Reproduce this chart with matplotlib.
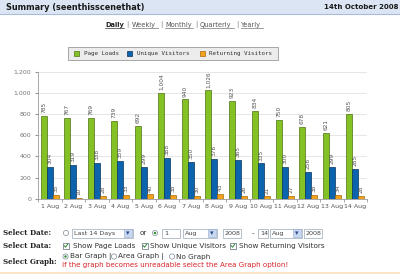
import matplotlib
matplotlib.use("Agg")
import matplotlib.pyplot as plt
import numpy as np
from matplotlib.patches import Rectangle, Circle

days = ["1 Aug", "2 Aug", "3 Aug", "4 Aug", "5 Aug", "6 Aug", "7 Aug",
        "8 Aug", "9 Aug", "10 Aug", "11 Aug", "12 Aug", "13 Aug", "14 Aug"]
page_loads = [785, 767, 769, 739, 692, 1004, 940, 1026, 923, 834, 750, 678, 621, 805]
unique_visitors = [304, 319, 338, 359, 299, 388, 350, 376, 365, 335, 300, 256, 299, 285]
returning_visitors = [35, 10, 28, 33, 40, 38, 30, 43, 26, 21, 27, 38, 34, 28]
series_names = ["Page Loads", "Unique Visitors", "Returning Visitors"]
yticks = [0, 200, 400, 600, 800, 1000, 1200]

green, blue, orange = "#84c124", "#0b64ad", "#f4a21e"
edges = ["#4a7312", "#06345e", "#a86a08"]

fig = plt.figure(figsize=(4, 2.74), dpi=100)

# page background drawn in pixel coords
bg = fig.add_axes([0, 0, 1, 1])
bg.set_xlim(0, 400)
bg.set_ylim(274, 0)
bg.axis("off")

# header band
bg.add_patch(Rectangle((0, 0), 400, 13.5, fc="#dbe5f4", ec="none"))
bg.plot([0, 400], [13.5, 13.5], color="#a9bcd9", lw=0.8)
bg.text(6, 7, "Summary (seenthisscenethat)", fontsize=5.9, fontweight="bold",
        color="#1a1a1a", va="center")
bg.text(398, 7, "14th October 2008", fontsize=5.0, fontweight="bold",
        color="#1a1a1a", va="center", ha="right")

# period links
links = [("Daily", 105, 124), ("Weekly", 132, 158), ("Monthly", 165, 193),
         ("Quarterly", 200, 234), ("Yearly", 241, 263)]
for i, (name, x0, x1) in enumerate(links):
    bg.text(x0, 25, name, fontsize=4.8, va="center",
            color="#222222" if i == 0 else "#555555",
            fontweight="bold" if i == 0 else "normal")
    bg.plot([x0, x1], [28.3, 28.3], color="#333333" if i == 0 else "#777777", lw=0.5)
    if i < len(links) - 1:
        bg.text(x1 + 3.5, 25, "|", fontsize=4.8, va="center", ha="center", color="#666666")

# legend box
bg.add_patch(Rectangle((68, 47), 210, 13, fc="#ececec", ec="#9a9a9a", lw=0.6))
for col, ec, name, xs, xt in zip([green, blue, orange], edges, series_names,
                                 [74, 127, 200], [84, 137, 209]):
    bg.add_patch(Rectangle((xs, 51), 5, 5, fc=col, ec=ec, lw=0.5))
    bg.text(xt, 53.6, name, fontsize=4.2, family="DejaVu Sans Mono",
            va="center", color="#333333")

# chart
ax = fig.add_axes([38 / 400, 1 - 198.7 / 274, (367 - 38) / 400, (198.7 - 72) / 274])
x = np.arange(len(days))
w = 0.255
for off, vals, col, ec in zip([-w, 0, w],
                              [page_loads, unique_visitors, returning_visitors],
                              [green, blue, orange], edges):
    bars = ax.bar(x + off, vals, w, color=col, edgecolor=ec, linewidth=0.5, zorder=3)
    for b, v in zip(bars, vals):
        ax.annotate(f"{v:,}", (b.get_x() + b.get_width() / 2, v),
                    xytext=(0, 2), textcoords="offset points", rotation=90,
                    ha="center", va="bottom", fontsize=4.2, color="#555555",
                    annotation_clip=False)

ax.set_xlim(-0.5, len(days) - 0.5)
ax.set_ylim(0, 1200)
ax.set_yticks(yticks)
ax.set_yticklabels([f"{v:,}" for v in yticks])
ax.set_xticks(x)
ax.set_xticklabels(days)
ax.set_xticks(np.arange(len(days) + 1) - 0.5, minor=True)
ax.tick_params(axis="x", which="major", length=0, labelsize=4.5, labelcolor="#555555", pad=4)
ax.tick_params(axis="x", which="minor", length=2, color="#999999")
ax.tick_params(axis="y", length=2, color="#999999", labelsize=4.5, labelcolor="#777777", pad=3)
ax.grid(axis="y", color="#e2e2e2", lw=0.6, zorder=0)
for s in ["top", "right"]:
    ax.spines[s].set_visible(False)
ax.spines["left"].set_color("#999999")
ax.spines["bottom"].set_color("#999999")
ax.spines["left"].set_linewidth(0.6)
ax.spines["bottom"].set_linewidth(0.6)
ax.set_facecolor("none")

# form area
lab = dict(fontsize=5, fontweight="bold", family="DejaVu Serif", color="#222222", va="center")
txt = dict(fontsize=5.2, color="#333333", va="center")
bg.text(3, 233, "Select Date:", **lab)
bg.text(3, 245.7, "Select Data:", **lab)
bg.text(3, 261.7, "Select Graph:", **lab)


def radio(cx, cy, on):
    bg.add_patch(Circle((cx, cy), 2.6, fc="white", ec="#7f8b99", lw=0.5))
    if on:
        bg.add_patch(Circle((cx, cy), 1.2, fc="#2a8a2a", ec="none"))


def box(x0, x1, label, dropdown=False):
    bg.add_patch(Rectangle((x0, 228.5), x1 - x0, 9.5, fc="white", ec="#9aa8b8", lw=0.5))
    bg.text(x0 + 2, 233.3, label, fontsize=4.6, color="#444444", va="center")
    if dropdown:
        bg.add_patch(Rectangle((x1 - 9, 229.3), 8.2, 7.9, fc="#c8d8f0", ec="#93a9cc", lw=0.4))
        bg.text(x1 - 4.9, 233.5, "\u25be", fontsize=5, color="#2c4a8a", ha="center", va="center")


def check(x0, cy):
    bg.add_patch(Rectangle((x0, cy - 3), 6, 6, fc="white", ec="#5a6a7a", lw=0.5))
    bg.plot([x0 + 1.2, x0 + 2.6, x0 + 4.8], [cy, cy + 1.5, cy - 1.7], color="#2a8a2a", lw=0.7)


radio(66, 233, False)
box(72, 133, "Last 14 Days", True)
bg.text(140, 233, "or", **txt)
radio(155, 233, True)
box(162, 180, "1")
box(183, 217, "Aug", True)
box(223, 241, "2008")
bg.text(252, 233, "-", **txt)
box(258, 268, "14")
box(270, 302, "Aug", True)
box(304, 322, "2008")

check(63, 245.7)
bg.text(73, 245.7, "Show Page Loads", **txt)
check(142, 245.7)
bg.text(150, 245.7, "Show Unique Visitors", **txt)
check(230, 245.7)
bg.text(239, 245.7, "Show Returning Visitors", **txt)

radio(65.5, 256.5, True)
bg.text(69.5, 256.5, "Bar Graph |", **txt)
radio(114, 256.5, False)
bg.text(118, 256.5, "Area Graph |", **txt)
radio(172, 256.5, False)
bg.text(176, 256.5, "No Graph", **txt)
bg.text(62, 265.5, "If the graph becomes unreadable select the Area Graph option!",
        fontsize=5.1, color="#d9232a", va="center")

bg.add_patch(Rectangle((0, 271.5), 400, 2.5, fc="#fbe3c8", ec="none"))

fig.savefig("out.png", dpi=100)
